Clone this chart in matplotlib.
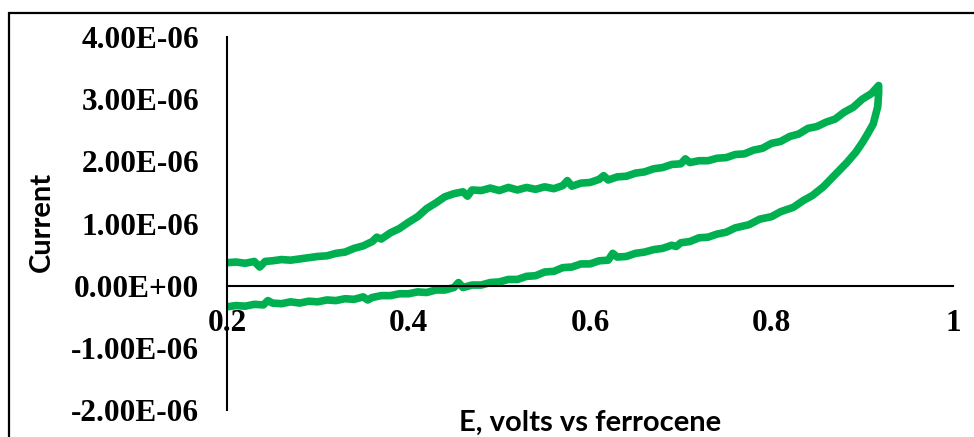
import matplotlib.pyplot as plt
from matplotlib.patches import Rectangle
from matplotlib.ticker import FixedLocator

# forward sweep (0.2 V -> 0.92 V), current in uA
fwd_E = [0.200, 0.210, 0.220, 0.230, 0.236, 0.242, 0.250, 0.260, 0.270, 0.280,
         0.290, 0.300, 0.310, 0.320, 0.330, 0.340, 0.350, 0.360, 0.365, 0.370,
         0.380, 0.390, 0.400, 0.410, 0.420, 0.430, 0.440, 0.450, 0.460, 0.465,
         0.470, 0.480, 0.490, 0.500, 0.510, 0.520, 0.530, 0.540, 0.550, 0.560,
         0.570, 0.575, 0.580, 0.590, 0.600, 0.610, 0.615, 0.620, 0.630, 0.640,
         0.650, 0.660, 0.670, 0.680, 0.690, 0.700, 0.705, 0.710, 0.720, 0.730,
         0.740, 0.750, 0.760, 0.770, 0.780, 0.790, 0.800, 0.810, 0.820, 0.830,
         0.840, 0.850, 0.860, 0.870, 0.880, 0.890, 0.900, 0.910, 0.918]
fwd_I = [0.37, 0.38, 0.36, 0.39, 0.30, 0.39, 0.40, 0.42, 0.41, 0.43,
         0.45, 0.47, 0.48, 0.52, 0.54, 0.60, 0.64, 0.71, 0.78, 0.75,
         0.85, 0.92, 1.02, 1.11, 1.24, 1.33, 1.43, 1.48, 1.51, 1.44,
         1.54, 1.53, 1.57, 1.53, 1.58, 1.54, 1.58, 1.55, 1.59, 1.56,
         1.61, 1.69, 1.60, 1.65, 1.66, 1.71, 1.77, 1.70, 1.75, 1.76,
         1.81, 1.83, 1.88, 1.90, 1.95, 1.96, 2.04, 1.98, 2.01, 2.01,
         2.05, 2.06, 2.11, 2.12, 2.18, 2.21, 2.29, 2.32, 2.40, 2.44,
         2.53, 2.56, 2.63, 2.68, 2.79, 2.87, 3.00, 3.09, 3.22]

# reverse sweep (0.92 V -> 0.2 V)
rev_E = [0.918, 0.917, 0.912, 0.905, 0.900, 0.893, 0.883, 0.875, 0.867, 0.857,
         0.845, 0.835, 0.824, 0.810, 0.800, 0.787, 0.775, 0.760, 0.750, 0.740,
         0.730, 0.720, 0.710, 0.700, 0.695, 0.690, 0.680, 0.670, 0.660, 0.650,
         0.640, 0.630, 0.625, 0.620, 0.610, 0.600, 0.590, 0.580, 0.570, 0.560,
         0.550, 0.540, 0.530, 0.520, 0.510, 0.500, 0.490, 0.480, 0.470, 0.460,
         0.455, 0.450, 0.440, 0.430, 0.420, 0.410, 0.400, 0.390, 0.380, 0.370,
         0.360, 0.355, 0.350, 0.340, 0.330, 0.320, 0.310, 0.300, 0.290, 0.280,
         0.270, 0.260, 0.250, 0.245, 0.240, 0.230, 0.220, 0.210, 0.200]
rev_I = [3.10, 2.88, 2.60, 2.42, 2.30, 2.15, 1.98, 1.86, 1.74, 1.59,
         1.45, 1.37, 1.26, 1.19, 1.11, 1.07, 0.98, 0.93, 0.86, 0.83,
         0.78, 0.77, 0.71, 0.69, 0.63, 0.65, 0.60, 0.58, 0.54, 0.52,
         0.47, 0.46, 0.52, 0.41, 0.40, 0.35, 0.35, 0.30, 0.29, 0.23,
         0.22, 0.16, 0.15, 0.10, 0.10, 0.06, 0.05, 0.01, 0.01, -0.03,
         0.05, -0.03, -0.07, -0.07, -0.11, -0.10, -0.13, -0.13, -0.16, -0.16,
         -0.19, -0.23, -0.18, -0.22, -0.21, -0.24, -0.23, -0.26, -0.25, -0.28,
         -0.26, -0.29, -0.28, -0.24, -0.31, -0.30, -0.33, -0.32, -0.34]

x_ticks = [0.2, 0.4, 0.6, 0.8, 1.0]
x_labels = ["0.2", "0.4", "0.6", "0.8", "1"]
y_ticks = [-2e-6, -1e-6, 0, 1e-6, 2e-6, 3e-6, 4e-6]
y_labels = ["-2.00E-06", "-1.00E-06", "0.00E+00", "1.00E-06",
            "2.00E-06", "3.00E-06", "4.00E-06"]

green = "#00B050"
tick_font = dict(family="Liberation Serif", weight="bold", size=22.5)
title_font = dict(family="Lato", weight="bold", size=21)

fig = plt.figure(figsize=(9.74, 4.37), dpi=100)
ax = fig.add_axes([0.2331, 0.0618, 0.7454, 0.8535])

E = fwd_E + rev_E
I = [v * 1e-6 for v in fwd_I + rev_I]
ax.plot(E, I, color=green, lw=5.5, solid_joinstyle="round",
        solid_capstyle="round")

for side in ("top", "right"):
    ax.spines[side].set_visible(False)
ax.spines["bottom"].set_position(("data", 0))
ax.spines["left"].set_linewidth(1.5)
ax.spines["bottom"].set_linewidth(1.5)

ax.set_xlim(0.2, 1.0)
ax.set_ylim(-2e-6, 4e-6)
ax.xaxis.set_major_locator(FixedLocator(x_ticks))
ax.yaxis.set_major_locator(FixedLocator(y_ticks))
ax.set_xticklabels(x_labels, fontdict=tick_font)
ax.set_yticklabels(y_labels, fontdict=tick_font)
ax.tick_params(axis="both", length=0)
ax.tick_params(axis="x", pad=17)
ax.tick_params(axis="y", pad=20)

fig.text(42 / 974, 1 - 222 / 437, "Current", rotation=90,
         ha="center", va="center", fontdict=title_font)
fig.text(590 / 974, 1 - 423 / 437, "E, volts vs ferrocene",
         ha="center", va="center", fontdict=title_font)

# chart area frame, open to the right and bottom
top = 1 - 13 / 437
fig.patches.append(Rectangle((9 / 974, -0.2), 1.2, top + 0.2,
                             transform=fig.transFigure, fill=False,
                             edgecolor="black", lw=1.6))

fig.savefig("out.png", dpi=100)
